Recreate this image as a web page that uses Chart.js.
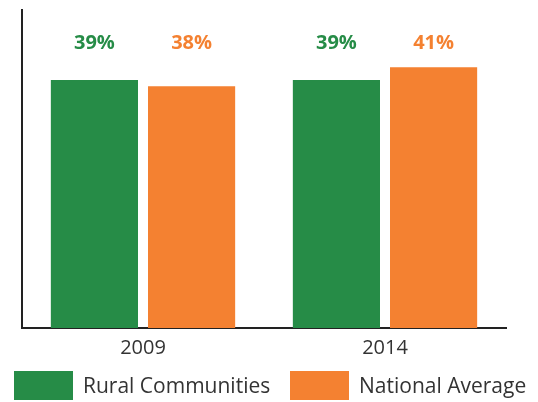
<!DOCTYPE html>
<html>
<head>
<meta charset="utf-8">
<script src="https://cdn.jsdelivr.net/npm/chart.js@4/dist/chart.umd.min.js"></script>
<style>
  html, body { margin: 0; padding: 0; background: #fff; }
  #wrap { width: 538px; height: 402px; }
</style>
</head>
<body>
<div id="wrap"><canvas id="chart-area"></canvas></div>
<script>
  var years = ['2009', '2014'];
  var rural = [39, 39];
  var national = [38, 41];
  var seriesNames = ['Rural Communities', 'National Average'];

  var green = '#268c47';
  var orange = '#f48131';

  // percentage labels sit on one line above the bars
  var topLabels = {
    id: 'topLabels',
    afterDatasetsDraw: function (chart) {
      var ctx = chart.ctx;
      var yScale = chart.scales.y;
      ctx.save();
      ctx.font = 'bold 20px "Open Sans"';
      ctx.textAlign = 'center';
      ctx.textBaseline = 'middle';
      chart.data.datasets.forEach(function (ds, i) {
        ctx.fillStyle = ds.backgroundColor;
        chart.getDatasetMeta(i).data.forEach(function (bar, j) {
          ctx.fillText(ds.data[j] + '%', bar.x, yScale.getPixelForValue(44.8));
        });
      });
      ctx.restore();
    }
  };

  // legend drawn by hand, one row along the bottom
  var bottomLegend = {
    id: 'bottomLegend',
    afterDraw: function (chart) {
      var ctx = chart.ctx;
      var starts = [14, 290];
      var top = chart.height - 31;
      ctx.save();
      ctx.font = '21px "Open Sans"';
      ctx.textBaseline = 'middle';
      ctx.textAlign = 'left';
      chart.data.datasets.forEach(function (ds, i) {
        ctx.fillStyle = ds.backgroundColor;
        ctx.fillRect(starts[i], top, 59, 29);
        ctx.fillStyle = '#333';
        ctx.fillText(ds.label, starts[i] + 69, top + 16);
      });
      ctx.restore();
    }
  };

  var ctx = document.getElementById('chart-area').getContext('2d');
  window.myBars = new Chart(ctx, {
    type: 'bar',
    data: {
      labels: years,
      datasets: [
        { label: seriesNames[0], data: rural, backgroundColor: green },
        { label: seriesNames[1], data: national, backgroundColor: orange }
      ]
    },
    options: {
      responsive: true,
      maintainAspectRatio: false,
      animation: false,
      categoryPercentage: 0.803,
      barPercentage: 0.897,
      layout: { padding: { left: 22, right: 32, top: 10, bottom: 34 } },
      scales: {
        x: {
          grid: { display: false, drawTicks: false },
          border: { display: true, color: '#222', width: 2 },
          ticks: { color: '#333', font: { family: 'Open Sans', size: 20 }, padding: 8 }
        },
        y: {
          min: 0,
          max: 50,
          grid: { display: false, drawTicks: false },
          border: { display: true, color: '#222', width: 2 },
          ticks: { display: false }
        }
      },
      plugins: {
        legend: { display: false },
        tooltip: { enabled: false }
      }
    },
    plugins: [topLabels, bottomLegend]
  });
</script>
</body>
</html>
